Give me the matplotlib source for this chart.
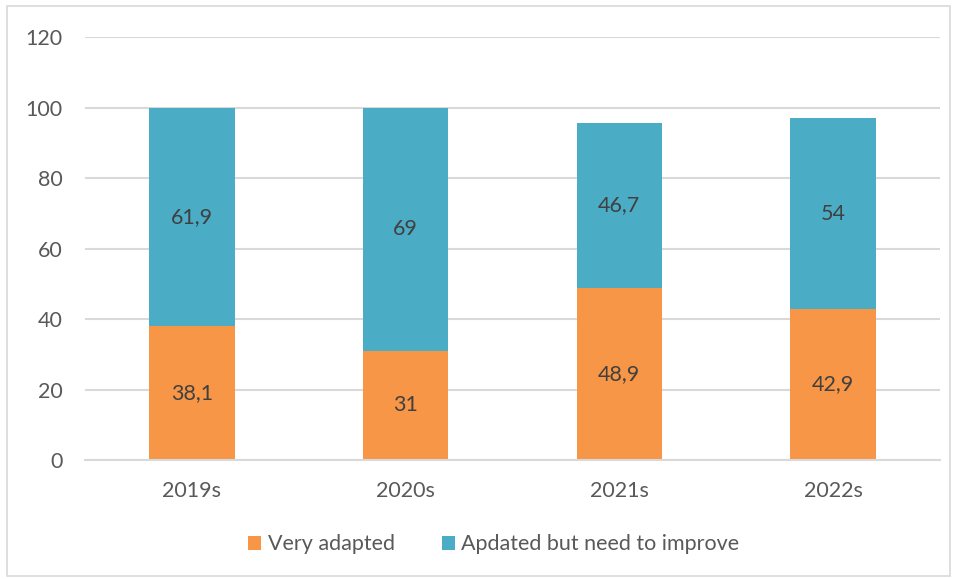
import numpy as np
import matplotlib.pyplot as plt
from matplotlib.patches import Rectangle

years = ["2019s", "2020s", "2021s", "2022s"]
very_adapted = [38.1, 31, 48.9, 42.9]
need_improve = [61.9, 69, 46.7, 54]
va_labels = ["38,1", "31", "48,9", "42,9"]
ni_labels = ["61,9", "69", "46,7", "54"]

orange = "#F79646"
teal = "#4BACC6"
txt = "#595959"

plt.rcParams["font.family"] = ["Lato", "DejaVu Sans"]

fig = plt.figure(figsize=(9.57, 5.79), dpi=100)
fig.patches.append(Rectangle((0.007, 0.005), 0.986, 0.985, transform=fig.transFigure,
                             fill=False, edgecolor="#D9D9D9", linewidth=1.2))
ax = fig.add_axes([0.0888, 0.2055, 0.8934, 0.7306])

x = np.arange(len(years))
b1 = ax.bar(x, very_adapted, width=0.4, color=orange, label="Very adapted", zorder=2)
b2 = ax.bar(x, need_improve, width=0.4, bottom=very_adapted, color=teal,
            label="Apdated but need to improve", zorder=2)

for i in range(len(years)):
    ax.text(x[i], very_adapted[i] / 2, va_labels[i], ha="center", va="center",
            fontsize=15.5, color="#404040")
    ax.text(x[i], very_adapted[i] + need_improve[i] / 2, ni_labels[i], ha="center",
            va="center", fontsize=15.5, color="#404040")

ax.set_xlim(-0.5, 3.5)
ax.set_ylim(0, 120)
ax.set_yticks(range(0, 121, 20))
ax.set_xticks(x)
ax.set_xticklabels(years)
ax.yaxis.grid(True, color="#D9D9D9", linewidth=1.5, zorder=0)
ax.tick_params(axis="both", length=0, labelsize=15.5, labelcolor=txt)
ax.tick_params(axis="y", pad=16)
ax.tick_params(axis="x", pad=15)
for s in ["top", "right", "left"]:
    ax.spines[s].set_visible(False)
ax.spines["bottom"].set_color("#D9D9D9")
ax.spines["bottom"].set_linewidth(1.5)

leg = fig.legend(handles=[b1, b2], loc="center", bbox_to_anchor=(0.516, 0.06), ncol=2,
                 frameon=False, fontsize=15.5, handlelength=0.6, handleheight=0.6,
                 columnspacing=2.2, handletextpad=0.3)
for t in leg.get_texts():
    t.set_color(txt)

fig.savefig("out.png", dpi=100)
